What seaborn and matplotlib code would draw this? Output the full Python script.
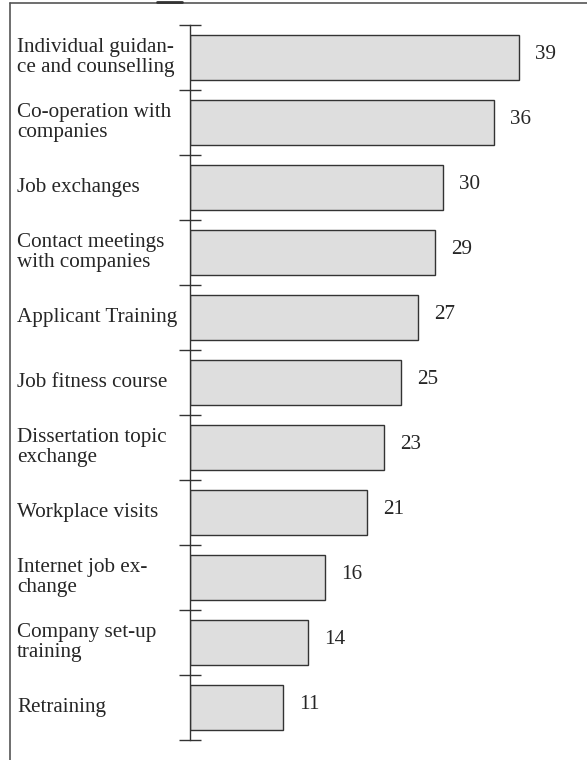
import matplotlib
matplotlib.use('Agg')
import matplotlib.pyplot as plt
import seaborn as sns
import pandas as pd
from matplotlib.lines import Line2D

# chart data
categories = ['Individual guidan-\nce and counselling', 'Co-operation with\ncompanies',
              'Job exchanges', 'Contact meetings\nwith companies', 'Applicant Training',
              'Job fitness course', 'Dissertation topic\nexchange', 'Workplace visits',
              'Internet job ex-\nchange', 'Company set-up\ntraining', 'Retraining']
values = [39, 36, 30, 29, 27, 25, 23, 21, 16, 14, 11]

df = pd.DataFrame({'category': categories, 'value': values})

sns.set_style('white')
plt.rcParams['font.family'] = ['Liberation Serif', 'DejaVu Serif']

W, H = 587, 760
fig = plt.figure(figsize=(W / 100, H / 100), dpi=100)
ax = fig.add_axes([190 / W, 1 - 740 / H, (W - 190) / W, 715 / H])

sns.barplot(data=df, x='value', y='category', orient='h', color='#dedede',
            edgecolor='#333333', linewidth=1.0, width=0.68, saturation=1, ax=ax)

ax.set_xlim(0, (W - 190) / 8.44)
ax.set_ylim(len(categories) - 0.5, -0.5)

# value labels
for i, v in enumerate(values):
    ax.text(v + 1.9, i - 0.04, str(v), va='center', ha='left', fontsize=15.2)

# category labels on the left
for i, c in enumerate(categories):
    ax.text(-173 / 8.44, i, c, va='center', ha='left', fontsize=15.2,
            linespacing=1.08, clip_on=False)

for s in ['top', 'right', 'bottom']:
    ax.spines[s].set_visible(False)
ax.spines['left'].set_color('#333333')
ax.spines['left'].set_linewidth(1.0)
ax.set_xticks([])
ax.set_yticks([i - 0.5 for i in range(len(categories) + 1)])
ax.set_yticklabels([])
ax.tick_params(axis='y', direction='inout', length=16, width=1.0, color='#333333', left=True)
ax.set_xlabel('')
ax.set_ylabel('')

# outer frame (top and left only)
fig.add_artist(Line2D([10 / W, 1], [1 - 3 / H, 1 - 3 / H], color='#555555', lw=1.2))
fig.add_artist(Line2D([10 / W, 10 / W], [1 - 3 / H, 0], color='#555555', lw=1.2))
fig.add_artist(Line2D([157 / W, 182 / W], [1 - 2 / H, 1 - 2 / H], color='#333333', lw=2))

fig.savefig('out.png', dpi=100)
